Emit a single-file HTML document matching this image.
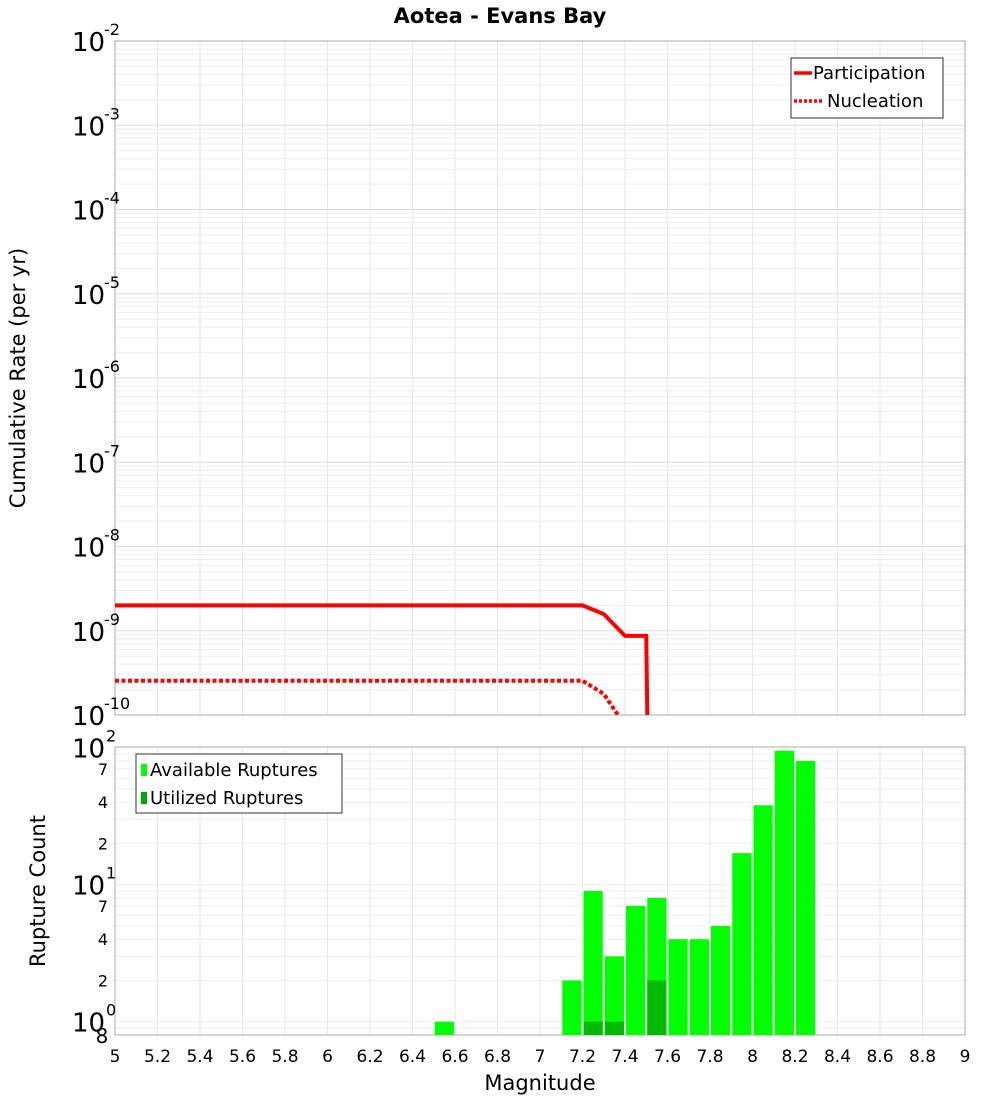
<!DOCTYPE html>
<html><head><meta charset="utf-8"><style>
body{margin:0;background:#fff;}
svg text{font-family:"DejaVu Sans","Liberation Sans",sans-serif;}
</style></head><body>
<svg id="chart" width="1000" height="1100" xmlns="http://www.w3.org/2000/svg">
<text x="500" y="23" text-anchor="middle" font-size="21" font-weight="bold">Aotea - Evans Bay</text>
<g id="topGrid"></g><g id="botGrid"></g>
<rect x="115" y="41" width="850" height="674" fill="none" stroke="#aaa"/>
<rect x="115" y="747" width="850" height="288" fill="none" stroke="#aaa"/>
<clipPath id="cTop"><rect x="115" y="41" width="850" height="674"/></clipPath>
<g id="lines" clip-path="url(#cTop)"></g>
<g id="bars"></g>
<g id="labels"></g>
<text transform="translate(25,378) rotate(-90)" text-anchor="middle" font-size="21">Cumulative Rate (per yr)</text>
<text transform="translate(45,891) rotate(-90)" text-anchor="middle" font-size="21">Rupture Count</text>
<text x="540" y="1090" text-anchor="middle" font-size="21">Magnitude</text>
<g>
<rect x="791" y="58" width="152" height="60" fill="#fff" stroke="#333"/>
<line x1="794" y1="73" x2="812" y2="73" stroke="#f00" stroke-width="3.5"/>
<text x="813" y="79" font-size="18">Participation</text>
<line x1="794" y1="101" x2="822" y2="101" stroke="#f00" stroke-width="3.5" stroke-dasharray="3,2"/>
<text x="827" y="107" font-size="18">Nucleation</text>
</g>
<g>
<rect x="136" y="754" width="206" height="59" fill="#fff" stroke="#333"/>
<rect x="141" y="764" width="6" height="12" fill="#00ff00"/>
<text x="150" y="776" font-size="18">Available Ruptures</text>
<rect x="141" y="792" width="6" height="12" fill="#00aa00"/>
<text x="150" y="804" font-size="18">Utilized Ruptures</text>
</g>
</svg>
<script>
const partMags=[5,7.2,7.3,7.4,7.5,7.51];
const partRates=[2e-9,2e-9,1.58e-9,8.7e-10,8.7e-10,1e-11];
const nuclMags=[5,7.2,7.3,7.4];
const nuclRates=[2.55e-10,2.55e-10,1.78e-10,7.5e-11];
const binStarts=[6.5,7.1,7.2,7.3,7.4,7.5,7.6,7.7,7.8,7.9,8.0,8.1,8.2];
const available=[1,2,9,3,7,8,4,4,5,17,38,95,80];
const utilized=[0,0,1,1,0,2,0,0,0,0,0,0,0];
const xTicks=[5,5.2,5.4,5.6,5.8,6,6.2,6.4,6.6,6.8,7,7.2,7.4,7.6,7.8,8,8.2,8.4,8.6,8.8,9];
const topExps=[-2,-3,-4,-5,-6,-7,-8,-9,-10];
const botExps=[2,1,0];
const NS='http://www.w3.org/2000/svg';
const X=m=>115+(m-5)*212.5;
const Yt=v=>715-(Math.log10(v)+10)*84.25;
const Yb=v=>1021.7-Math.log10(v)*137;
function mk(tag,attrs,parent){const e=document.createElementNS(NS,tag);for(const k in attrs)e.setAttribute(k,attrs[k]);document.getElementById(parent).appendChild(e);return e;}
for(let m=5.2;m<8.99;m+=0.2){
 let g=mk('line',{x1:X(m),x2:X(m),y1:41,y2:715,stroke:'#e6e6e6'},'topGrid');
 
 
 let h=mk('line',{x1:X(m),x2:X(m),y1:747,y2:1035,stroke:'#e6e6e6'},'botGrid');
 
 
}
for(let e=-10;e<-2;e++)for(let k=1;k<10;k++){const y=Yt(k*Math.pow(10,e));
 let g=mk('line',{x1:115,x2:965,y1:y,y2:y,stroke:k==1?'#ddd':'#eee'},'topGrid');
 
 }
for(let e=-1;e<2;e++)for(let k=1;k<10;k++){const v=k*Math.pow(10,e);if(v<0.8)continue;const y=Yb(v);
 let g=mk('line',{x1:115,x2:965,y1:y,y2:y,stroke:'#eee'},'botGrid');
 
 }
let p=mk('polyline',{points:partMags.map((m,i)=>X(m)+','+Yt(partRates[i])).join(' '),fill:'none',stroke:'#f00','stroke-width':4},'lines');


let n=mk('polyline',{points:nuclMags.map((m,i)=>X(m)+','+Yt(nuclRates[i])).join(' '),fill:'none',stroke:'#f00','stroke-width':4,'stroke-dasharray':'4,2.5'},'lines');


binStarts.forEach((b,i)=>{
 const x0=X(b)+1,w=212.5*0.1-2;
 let r=mk('rect',{x:x0,y:Yb(available[i]),width:w,height:1035-Yb(available[i]),fill:'#00ff00'},'bars');
 
 
 if(utilized[i]>0){
  let u=mk('rect',{x:x0,y:Yb(utilized[i]),width:w,height:1035-Yb(utilized[i]),fill:'#00bb00'},'bars');
  
  
 }
});
xTicks.forEach(m=>{
 let t=mk('text',{x:X(m),y:1062,'text-anchor':'middle','font-size':17},'labels');
 t.textContent=String(m);
 
 
});
topExps.forEach(e=>{
 const y=Yt(Math.pow(10,e));
 let t=mk('text',{x:72,y:y+10,'font-size':26},'labels');
 t.textContent='10';
 
 
 let s=mk('text',{x:104,y:y-6,'font-size':16},'labels');
 s.textContent=String(e);
 
 
});
botExps.forEach(e=>{
 const y=Yb(Math.pow(10,e));
 let t=mk('text',{x:72,y:y+10,'font-size':26},'labels');
 t.textContent='10';
 
 
 let s=mk('text',{x:106,y:y-6,'font-size':16},'labels');
 s.textContent=String(e);
 
 
 if(e<2)[2,4,7].forEach(k=>{
  let m=mk('text',{x:103,y:Yb(k*Math.pow(10,e))+6,'font-size':16,'text-anchor':'middle'},'labels');
  m.textContent=String(k);
  
  
 });
});
let m8=mk('text',{x:102,y:Yb(0.8)+8,'font-size':20,'text-anchor':'middle'},'labels');
m8.textContent='8';


</script>
</body></html>
